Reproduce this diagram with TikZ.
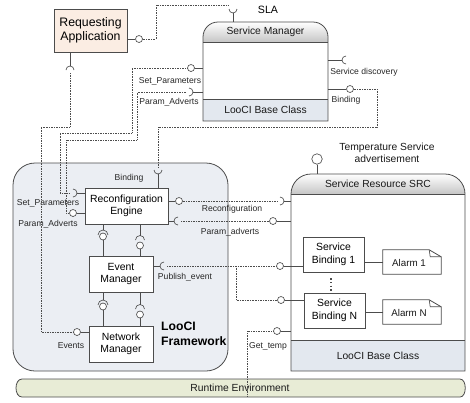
\documentclass[tikz,border=0pt]{standalone}
\usepackage{fontspec}
\setmainfont{Liberation Sans}
\usetikzlibrary{calc}
\definecolor{ln}{HTML}{4C4C4C}
\definecolor{rafill}{HTML}{FBEDE3}
\definecolor{basefill}{HTML}{E3E8EF}
\definecolor{fwfill}{HTML}{EBEEF3}
\definecolor{rtfill}{HTML}{E8ECD6}
\tikzset{
  conn/.style={draw=ln, line width=0.65pt},
  dotl/.style={draw=ln, line width=0.65pt, densely dotted},
  box/.style={draw=ln, line width=0.8pt, fill=white, align=center, inner sep=0pt, font=\fontsize{10.4}{12.4}\selectfont},
  ball/.style={circle, draw=ln, line width=0.65pt, fill=white, inner sep=0pt, minimum size=7pt},
  lab/.style={inner sep=0pt, font=\fontsize{8.6}{10}\selectfont, text=black!85},
  big/.style={inner sep=0pt, font=\fontsize{10.3}{12.4}\selectfont, text=black!90},
  frame/.style={draw=ln, line width=0.8pt},
}
\newcommand\mysock[4][4]{%
  \coordinate (#2) at #3;%
  \pgfmathsetmacro\sockA{#4+90}%
  \pgfmathsetmacro\sockB{#4+180}%
  \coordinate (#2-b) at ($(#2)+(\sockB:#1)$);%
  \draw[conn] ($(#2)+(\sockA:#1)$) arc[start angle=\sockA, delta angle=180, radius=#1];%
}
\begin{document}
\begin{tikzpicture}[x=1pt,y=-1pt]
\useasboundingbox (0,0) rectangle (470,402);

% ---------- Runtime environment
\node[minimum width=449pt, minimum height=18pt, inner sep=0pt] (rt) at (240.5,388) {};
\draw[frame, fill=rtfill] (22,379) -- (460,379) .. controls (467,379) and (467,397) .. (460,397) -- (22,397) .. controls (14,397) and (14,379) .. (22,379) -- cycle;
\node[big] at (240,388) {Runtime Environment};

% ---------- LooCI framework
\node[frame, fill=fwfill, rounded corners=22pt, minimum width=215pt, minimum height=208pt, inner sep=0pt] (fw) at (120.5,267) {};
\node[anchor=west, align=left, inner sep=0pt, font=\fontsize{12.2}{15}\selectfont\bfseries] at (161,334) {LooCI\\Framework};

% ---------- Service Resource SRC
\node[minimum width=174pt, minimum height=197pt, inner sep=0pt] (src) at (378,272.5) {};
\fill[white] (291,194) rectangle (465,340);
\fill[basefill] (291,340) rectangle (465,371);
\shade[top color=white, bottom color=gray!45] (291,194) arc[start angle=180, end angle=270, radius=20] -- (445,174) arc[start angle=270, end angle=360, radius=20] -- cycle;
\draw[frame] (291,371) -- (291,194) arc[start angle=180, end angle=270, radius=20] -- (445,174) arc[start angle=270, end angle=360, radius=20] -- (465,371) -- cycle;
\draw[frame] (291,194) -- (465,194);
\draw[frame] (291,340) -- (465,340);
\node[big] at (378,184) {Service Resource SRC};
\node[big] at (378,356) {LooCI Base Class};

% ---------- Service Manager
\node[minimum width=125pt, minimum height=99pt, inner sep=0pt] (sm) at (265.5,71.5) {};
\fill[white] (203,42) rectangle (328,99);
\fill[basefill] (203,99) rectangle (328,121);
\shade[top color=white, bottom color=gray!45] (203,42) -- (203,37) arc[start angle=180, end angle=270, radius=15] -- (313,22) arc[start angle=270, end angle=360, radius=15] -- (328,42) -- cycle;
\draw[frame] (203,121) -- (203,37) arc[start angle=180, end angle=270, radius=15] -- (313,22) arc[start angle=270, end angle=360, radius=15] -- (328,121) -- cycle;
\draw[frame] (203,42) -- (328,42);
\draw[frame] (203,99) -- (328,99);
\node[big] at (265.5,32) {Service Manager};
\node[big] at (265.5,110) {LooCI Base Class};

% ---------- boxes
\node[box, fill=rafill, font=\fontsize{12.3}{14.6}\selectfont, minimum width=73pt, minimum height=43pt] (ra) at (90.5,30.5) {Requesting\\Application};
\node[box, minimum width=83pt, minimum height=36pt] (re) at (126.5,206) {Reconfiguration\\Engine};
\node[box, minimum width=64pt, minimum height=36pt] (em) at (121,274) {Event\\Manager};
\node[box, minimum width=64pt, minimum height=36pt] (nm) at (121,344) {Network\\Manager};
\node[box, minimum width=61pt, minimum height=35pt] (sb1) at (333.5,254.5) {Service\\Binding 1};
\node[box, minimum width=61pt, minimum height=35pt] (sbn) at (334.5,310.5) {Service\\Binding N};
\node[minimum width=58pt, minimum height=24pt, inner sep=0pt] (al1) at (412,262) {};
\node[minimum width=58pt, minimum height=24pt, inner sep=0pt] (aln) at (412,312) {};
\foreach \a in {al1,aln}{
  \draw[frame] (\a.south west) -- (\a.north west) -- ($(\a.north east)+(-12,0)$) -- ($(\a.north east)+(0,7)$) -- (\a.south east) -- cycle;
  \draw[conn] ($(\a.north east)+(-12,0)$) -- ($(\a.north east)+(-11,7)$) -- ($(\a.north east)+(0,7)$);
}
\node[big, font=\fontsize{9.8}{12}\selectfont] at ($(al1)+(-3,1)$) {Alarm 1};
\node[big, font=\fontsize{9.8}{12}\selectfont] at ($(aln)+(-3,1)$) {Alarm N};
\draw[conn] (sb1.east |- al1) -- (al1.west);
\draw[conn] (sbn.east |- aln) -- (aln.west);
\draw[draw=ln, line width=1.6pt, dash pattern=on 1.4pt off 2.2pt] ($(sb1.south)+(-2.5,6)$) -- ($(sbn.north)+(-3.5,-1)$);

% ---------- Requesting application -> SLA
\node[ball] (bra) at (139,39) {};
\draw[conn] (ra.east |- bra) -- (bra.west);
\mysock{sla}{(233,9)}{270}
\draw[conn] (sla-b) -- (sla-b |- sm.north);
\draw[dotl] (bra.east) -- ++(13,0) |- ($(sla)+(-5,-4)$);
\node[inner sep=0pt, font=\fontsize{10.6}{12}\selectfont] at (268,10) {SLA};

% ---------- Service discovery
\mysock{sd}{(346,60)}{0}
\draw[conn] (sm.east |- sd) -- (sd-b);
\node[lab] at (364,72) {Service discovery};

% ---------- Binding (SM) -> RE
\node[ball] (bsmb) at (350,89) {};
\draw[conn] (sm.east |- bsmb) -- (bsmb.west);
\node[lab] at (346,100) {Binding};
\mysock{reb}{(158,170)}{270}
\draw[conn] (reb-b) -- (reb-b |- re.north);
\draw[dotl] (bsmb.east) -| (377,127) -| ($(reb)+(0,-3)$);
\node[lab] at (129,178) {Binding};

% ---------- Set_Parameters
\node[ball] (bsp) at (191,68) {};
\draw[conn] (bsp.east) -- (sm.west |- bsp);
\node[lab] at (170,81) {Set\_Parameters};
\mysock{resp}{(73,193)}{180}
\draw[conn] (resp-b) -- (re.west |- resp);
\draw[dotl] (bsp.west) -- (132,68) -- (132,133) -- (60,133) |- ($(resp)+(-3,0)$);
\node[lab] at (48,203) {Set\_Parameters};

% ---------- Param_Adverts
\mysock{smpa}{(189,92)}{180}
\draw[conn] (smpa-b) -- (sm.west |- smpa);
\node[lab] at (169,102) {Param\_Adverts};
\node[ball] (brpa) at (73,213) {};
\draw[conn] (brpa.east) -- (re.west |- brpa);
\draw[dotl] ($(smpa)+(-3,0)$) -- (137,92) -- (137,140) -- (66,140) |- (brpa.west);
\node[lab] at (48,224) {Param\_Adverts};

% ---------- Reconfiguration
\node[ball] (brr) at (179,201) {};
\draw[conn] (re.east |- brr) -- (brr.west);
\mysock{srr}{(280,201)}{180}
\draw[conn] (srr-b) -- (src.west |- srr);
\draw[dotl] (brr.east) -- ($(srr)+(-3,0)$);
\node[lab] at (232,209) {Reconfiguration};

% ---------- Param_adverts (SRC)
\mysock{repa}{(178,221)}{0}
\draw[conn] (re.east |- repa) -- (repa-b);
\node[ball] (bsrcpa) at (273,221) {};
\draw[conn] (bsrcpa.east) -- (src.west |- bsrcpa);
\draw[dotl] ($(repa)+(3,0)$) -- (bsrcpa.west);
\node[lab] at (230,232) {Param\_adverts};

% ---------- assemblies RE-EM, EM-NM
\mysock[5]{a1}{(103,235)}{90}
\node[ball] (ba1) at (103,236.5) {};
\draw[conn] (re.south -| a1) -- (a1-b);
\draw[conn] (ba1.south) -- (ba1 |- em.north);
\mysock[4.5]{a2}{(140,240)}{90}
\node[ball] (ba2) at (140,245.5) {};
\draw[conn] (re.south -| a2) -- (a2-b);
\draw[conn] (ba2.south) -- (ba2 |- em.north);
\mysock[5]{a3}{(103,305)}{90}
\node[ball] (ba3) at (103,306.5) {};
\draw[conn] (em.south -| a3) -- (a3-b);
\draw[conn] (ba3.south) -- (ba3 |- nm.north);
\mysock[4.5]{a4}{(140,309)}{90}
\node[ball] (ba4) at (140,314.5) {};
\draw[conn] (em.south -| a4) -- (a4-b);
\draw[conn] (ba4.south) -- (ba4 |- nm.north);

% ---------- Publish_event
\mysock{pe}{(164,266)}{0}
\draw[conn] (em.east |- pe) -- (pe-b);
\node[ball] (bsb1) at (280,266) {};
\draw[conn] (bsb1.east) -- (sb1.west |- bsb1);
\node[ball] (bsbn) at (281,300) {};
\draw[conn] (bsbn.east) -- (sbn.west |- bsbn);
\coordinate (brk) at (236,266);
\draw[dotl] ($(pe)+(3,0)$) -- (bsb1.west);
\draw[dotl] (brk) |- (bsbn.west);
\node[lab] at (185,277) {Publish\_event};

% ---------- Events
\mysock{ras}{(70,70)}{90}
\draw[conn] (ra.south -| ras) -- (ras-b);
\node[ball] (bev) at (77,332) {};
\draw[conn] (bev.east) -- (nm.west |- bev);
\draw[dotl] ($(ras)+(0,3)$) -- (70,127) -- (41,127) |- (bev.west);
\node[lab] at (71,346) {Events};

% ---------- Temperature advertisement
\node[ball, minimum size=10.5pt] (btemp) at (317,159) {};
\draw[conn] (btemp.south) -- (btemp |- src.north);
\node[big, align=center] at (387,153) {Temperature Service\\advertisement};

% ---------- Get_temp
\node[ball] (bgt) at (277,331) {};
\draw[conn] (bgt.east) -- (src.west |- bgt);
\coordinate (gtend) at (247,397);
\draw[dotl] (bgt.west) -| (gtend);
\node[lab] at (268,346) {Get\_temp};
\end{tikzpicture}
\end{document}
